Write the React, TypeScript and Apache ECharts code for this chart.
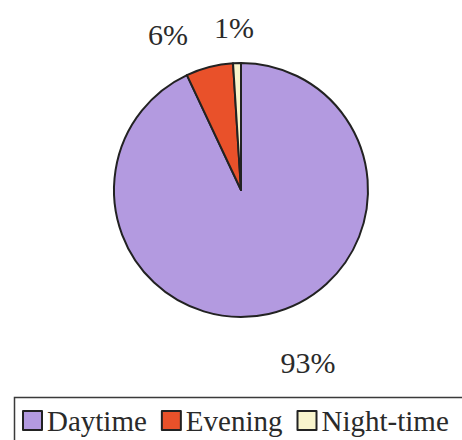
import React, { useEffect, useRef } from "react";
import * as echarts from "echarts";

// Share of activity by time of day (percent)
const categories = ["Daytime", "Evening", "Night-time"];
const shares = [93, 6, 1];

const sliceColors = ["#b39ae0", "#e9512a", "#f8f4cc"];
// Where each percentage label sits on the canvas
const labelSpots: [number, number][] = [
  [308, 362],
  [168, 34],
  [234, 27],
];

export default function App() {
  const ref = useRef<HTMLDivElement>(null);

  useEffect(() => {
    document.body.style.margin = "0";
    if (!ref.current) return;
    const chart = echarts.init(ref.current, null, { renderer: "svg" });
    const font = "'Liberation Serif', 'Times New Roman', serif";

    chart.setOption({
      animation: false,
      backgroundColor: "#ffffff",
      // frame around the legend, running off the right and bottom edges
      graphic: [
        {
          type: "rect",
          left: 12,
          top: 395,
          shape: { width: 480, height: 80 },
          style: { fill: "none", stroke: "#3a3a3a", lineWidth: 1.5 },
          silent: true,
        },
      ],
      legend: {
        data: categories,
        left: 22,
        top: 406,
        width: 600,
        orient: "horizontal",
        itemWidth: 19,
        itemHeight: 19,
        itemGap: 14,
        padding: 0,
        icon: "rect",
        itemStyle: { borderColor: "#222", borderWidth: 2 },
        textStyle: { fontFamily: font, fontSize: 29, color: "#2a2a2a" },
      },
      series: [
        {
          type: "pie",
          center: [241, 190],
          radius: 127,
          startAngle: 90,
          clockwise: true,
          data: categories.map((name, i) => ({
            name,
            value: shares[i],
            itemStyle: { color: sliceColors[i] },
          })),
          itemStyle: { borderColor: "#222", borderWidth: 2 },
          label: {
            show: true,
            formatter: "{c}%",
            fontFamily: font,
            fontSize: 30,
            color: "#2a2a2a",
          },
          labelLine: { show: false },
          labelLayout: (params: any) => {
            const [x, y] = labelSpots[params.dataIndex];
            return { x, y, align: "center", verticalAlign: "middle" };
          },
          emphasis: { disabled: true },
        },
      ],
    });

    return () => chart.dispose();
  }, []);

  return <div ref={ref} style={{ width: 462, height: 440 }} />;
}
